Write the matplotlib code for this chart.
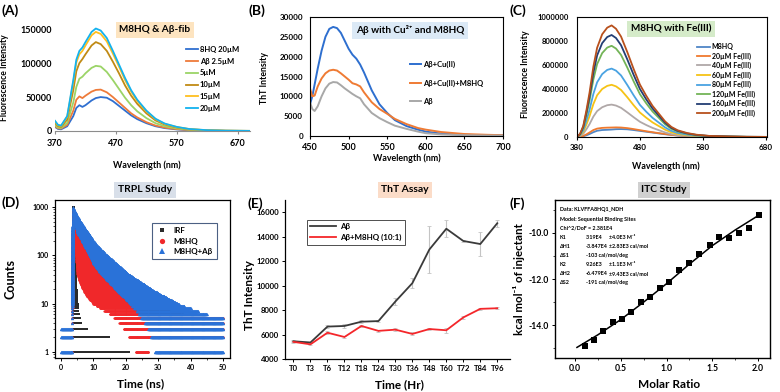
import numpy as np
import matplotlib
matplotlib.use('Agg')
import matplotlib.pyplot as plt
from matplotlib.lines import Line2D
from matplotlib.ticker import FixedLocator, NullFormatter, FuncFormatter

plt.rcParams['font.family'] = ['Lato', 'DejaVu Sans']
plt.rcParams['font.weight'] = 'bold'
plt.rcParams['axes.labelweight'] = 'bold'
plt.rcParams['mathtext.default'] = 'regular'

# ---------------- data ----------------
# (A) M8HQ & Abeta-fib fluorescence
lamA = [370, 375, 380, 390, 400, 405, 410, 415, 420, 430, 437, 445, 455, 465, 475, 485,
        495, 505, 520, 535, 550, 570, 590, 620, 650, 690]
A_hq20 = [6000, 3000, 2500, 7000, 22000, 34000, 38000, 35500, 38000, 45000, 48500, 50000, 49000,
          44000, 37000, 30000, 23000, 17500, 11500, 7000, 4300, 2300, 1200, 450, 180, 70]
A_ab25 = [7000, 4000, 3500, 9000, 30000, 46000, 51000, 48500, 52000, 58000, 60500, 61000, 57000,
          50000, 42000, 34000, 26000, 20000, 13000, 8000, 5000, 2700, 1400, 500, 200, 80]
A_5 = [9000, 5000, 4500, 12000, 42000, 65000, 77000, 80000, 85000, 93000, 96000, 95000, 87000,
       75000, 62000, 49000, 38000, 29000, 19000, 11500, 7000, 3800, 1900, 700, 300, 100]
A_10 = [12000, 7000, 6000, 17000, 60000, 88000, 100000, 106000, 113000, 126000, 131000, 128000,
        118000, 102000, 85000, 67000, 52000, 40000, 26000, 15500, 9500, 5200, 2600, 1000, 400, 150]
A_15 = [14000, 8500, 7500, 21000, 72000, 101000, 113000, 118000, 126000, 141000, 146000, 143000,
        132000, 114000, 95000, 75000, 58000, 44000, 29000, 17500, 10500, 5800, 2900, 1100, 450, 200]
A_20 = [15000, 9000, 8000, 22000, 75000, 105000, 118000, 123000, 131000, 146000, 151000, 148000,
        137000, 118000, 98000, 78000, 60000, 46000, 30000, 18000, 11000, 6000, 3000, 1200, 500, 200]
A_labels = ['8HQ 20µM', 'Aβ 2.5µM', '5µM', '10µM', '15µM', '20µM']

# (B) Abeta with Cu2+ and M8HQ (ThT)
lamB = [450, 453, 456, 460, 465, 470, 475, 480, 485, 490, 495, 500, 505, 510, 515, 520,
        530, 540, 550, 560, 575, 590, 600, 620, 650, 680, 700]
B_cu = [8000, 10000, 13000, 17000, 21500, 25000, 27000, 27500, 27200, 26000, 24000, 22000, 20500,
        19500, 18000, 16000, 11500, 8000, 5800, 4000, 2500, 1600, 1100, 600, 300, 200, 150]
B_cu_m8 = [12000, 10000, 10200, 12500, 14500, 15800, 16500, 16700, 16500, 15800, 15000, 14200,
           13300, 13000, 12500, 11000, 8500, 6800, 5600, 4300, 3000, 2000, 1600, 1000, 500, 300, 200]
B_ab = [8500, 6800, 6300, 7500, 10000, 12000, 13200, 13600, 13500, 12800, 12000, 11300, 10600,
        10000, 9500, 8000, 5800, 4500, 3500, 2600, 1800, 1100, 700, 400, 200, 120, 100]
B_labels = ['Aβ+Cu(II)', 'Aβ+Cu(II)+M8HQ', 'Aβ']

# (C) M8HQ with Fe(III)
lamC = [380, 385, 390, 395, 400, 406, 412, 420, 428, 435, 442, 450, 460, 470, 480, 490,
        500, 510, 520, 530, 540, 555, 570, 590, 620, 650, 680]
C_m8 = [0, 2000, 6000, 14000, 25000, 40000, 52000, 58000, 60000, 62000, 65000, 66000, 64000, 58000,
        51000, 44000, 37000, 30000, 23000, 17000, 12500, 8000, 5000, 2500, 1200, 500, 200]
C_20 = [0, 3000, 9000, 22000, 38000, 58000, 70000, 76000, 78000, 79000, 80000, 79000, 74000, 66000,
        57000, 48000, 40000, 32000, 25000, 18000, 13000, 8000, 5000, 2500, 1200, 500, 200]
C_40 = [0, 8000, 27000, 65000, 108000, 170000, 216000, 248000, 265000, 270000, 262000, 243000,
        205000, 165000, 127000, 100000, 76000, 57000, 38000, 24000, 16000, 9500, 5400, 2700, 1400, 540, 270]
C_60 = [0, 13000, 43500, 104000, 174000, 274000, 348000, 400000, 426000, 435000, 422000, 392000,
        331000, 265000, 204000, 161000, 122000, 91000, 61000, 39000, 26000, 15000, 8700, 4400, 2200, 900, 400]
C_80 = [0, 17000, 57000, 137000, 228000, 359000, 456000, 524000, 559000, 570000, 553000, 513000,
        433000, 348000, 268000, 211000, 160000, 120000, 80000, 51000, 34000, 20000, 11400, 5700, 2900, 1100, 570]
C_120 = [0, 23000, 76000, 182000, 304000, 479000, 608000, 699000, 745000, 760000, 737000, 684000,
         578000, 464000, 357000, 281000, 213000, 160000, 106000, 68000, 46000, 27000, 15000, 7600, 3800, 1500, 760]
C_160 = [0, 25000, 85000, 204000, 340000, 535000, 680000, 782000, 833000, 850000, 825000, 765000,
         646000, 518000, 400000, 314000, 238000, 178000, 119000, 76000, 51000, 30000, 17000, 8500, 4200, 1700, 850]
C_200 = [0, 28000, 93000, 223000, 372000, 586000, 744000, 856000, 911000, 930000, 902000, 837000,
         707000, 567000, 437000, 344000, 260000, 195000, 130000, 84000, 56000, 33000, 19000, 9300, 4600, 1900, 900]
C_labels = ['M8HQ', '20µM Fe(III)', '40µM Fe(III)', '60µM Fe(III)', '80µM Fe(III)',
            '120µM Fe(III)', '160µM Fe(III)', '200µM Fe(III)']

# (D) TRPL: counts envelope (low / high) read at times (ns)
D_irf_t = [3.5, 3.8, 4.1, 4.4, 4.7, 5.2, 6, 8, 10, 14, 18, 21]
D_irf_hi = [1, 1000, 1000, 150, 25, 8, 4, 3, 2.5, 2.2, 1.5, 1.2]
D_irf_lo = [1, 1, 1, 1, 1, 1, 1, 1, 1, 1, 1, 1]
D_m8_t = [3.3, 3.5, 3.8, 4.2, 4.6, 5, 6, 8, 10, 12, 15, 18, 21, 23, 27, 28, 30, 40, 50]
D_m8_hi = [1, 300, 900, 500, 330, 250, 190, 120, 80, 60, 40, 28, 20, 15, 11, 10, 8, 5.5, 5]
D_m8_lo = [1, 1, 500, 200, 90, 40, 25, 14, 10, 8, 6, 4, 2, 1, 1, 2, 2, 2, 2]
D_ab_t = [0, 3.3, 3.5, 3.8, 4.2, 5, 6, 8, 10, 12, 15, 18, 21, 24, 27, 29, 35, 40, 45, 50]
D_ab_hi = [3.5, 3.5, 400, 1000, 850, 650, 500, 320, 200, 140, 90, 60, 40, 30, 22, 18, 11, 8, 6, 5]
D_ab_lo = [1, 1, 1, 700, 500, 300, 230, 130, 70, 45, 28, 17, 11, 6, 3, 1, 1, 1, 1, 1]

# (E) ThT assay
E_cats = ['T0', 'T3', 'T6', 'T12', 'T18', 'T24', 'T30', 'T36', 'T48', 'T60', 'T72', 'T84', 'T96']
E_ab = [5450, 5350, 6650, 6700, 7050, 7100, 8700, 10200, 12950, 14650, 13650, 13400, 15100]
E_ab_err = [80, 80, 100, 200, 100, 80, 250, 400, 1900, 700, 120, 950, 300]
E_m8 = [5400, 5200, 6150, 5800, 6700, 6300, 6400, 6050, 6450, 6350, 7400, 8100, 8150]
E_m8_err = [80, 80, 100, 100, 100, 80, 100, 120, 100, 200, 100, 100, 100]

# (F) ITC
F_x = [0.11, 0.21, 0.31, 0.41, 0.51, 0.61, 0.72, 0.82, 0.93, 1.03, 1.14, 1.24, 1.35, 1.47,
       1.57, 1.68, 1.79, 1.90, 2.01]
F_y = [-14.90, -14.65, -14.25, -13.87, -13.75, -13.42, -12.98, -12.79, -12.41, -12.14, -11.63,
       -11.32, -10.90, -10.52, -10.16, -10.23, -10.00, -9.77, -9.23]
F_fit_x = [0.02, 0.25, 0.5, 0.75, 1.0, 1.25, 1.5, 1.75, 2.02]
F_fit_y = [-14.97, -14.42, -13.76, -13.0, -12.2, -11.35, -10.55, -9.87, -9.2]

# ---------------- figure ----------------
W, H = 780, 392
fig = plt.figure(figsize=(7.8, 3.92), dpi=100)
intfmt = FuncFormatter(lambda v, p: '%d' % v)


def add_ax(l, r, t, b):
    return fig.add_axes([l / W, 1 - b / H, (r - l) / W, (b - t) / H])


def ftext(x, y, s, **kw):
    return fig.text(x / W, 1 - y / H, s, **kw)


def boxed(x, y, s, fc, size=7.2):
    ftext(x, y, s, ha='center', va='center', fontsize=size, fontweight='bold',
          bbox=dict(boxstyle='square,pad=0.35', fc=fc, ec='none'))


# ---- A ----
axA = add_ax(55, 250, 19, 131)
colA = ['#2f6fd0', '#ee7b3a', '#9bd467', '#c08a14', '#ffbf1f', '#13b2ef']
for y, c, lab in zip([A_hq20, A_ab25, A_5, A_10, A_15, A_20], colA, A_labels):
    axA.plot(lamA, y, color=c, lw=1.3, label=lab)
axA.set_xlim(370, 690)
axA.set_ylim(0, 165000)
axA.set_xticks([370, 470, 570, 670])
axA.set_yticks([0, 50000, 100000, 150000])
axA.yaxis.set_major_formatter(intfmt)
for s in ['left', 'top', 'right']:
    axA.spines[s].set_visible(False)
axA.spines['bottom'].set_color('#8c8c8c')
axA.tick_params(axis='y', length=0, pad=2.5, labelsize=6.5)
axA.tick_params(axis='x', length=2.5, color='#8c8c8c', pad=3, labelsize=6.5)
axA.set_ylabel('Fluorescence Intensity', fontsize=6.2)
axA.yaxis.set_label_coords(-0.235, 0.48)
axA.set_xlabel('Wavelength (nm)', fontsize=6.4)
axA.xaxis.set_label_coords(0.47, -0.26)
axA.legend(loc='upper left', bbox_to_anchor=(186 / W, 1 - 46 / H), bbox_transform=fig.transFigure,
           frameon=False, fontsize=5.5, handlelength=1.6, handletextpad=0.2, labelspacing=0.62,
           borderpad=0, borderaxespad=0)
boxed(155, 30, 'M8HQ & Aβ-fib', '#fde4c0')

# ---- B ----
axB = add_ax(310, 503, 17, 136)
for y, c, lab in zip([B_cu, B_cu_m8, B_ab], ['#2e6fcf', '#ef7b34', '#a8a8a8'], B_labels):
    axB.plot(lamB, y, color=c, lw=1.4, label=lab)
axB.set_xlim(450, 700)
axB.set_ylim(0, 30000)
axB.set_xticks([450, 500, 550, 600, 650, 700])
axB.set_yticks(range(0, 30001, 5000))
axB.yaxis.set_major_formatter(intfmt)
for s in axB.spines.values():
    s.set_linewidth(0.8)
axB.tick_params(axis='y', length=0, pad=5, labelsize=5.8)
axB.tick_params(axis='x', length=2, pad=3, labelsize=6.5)
axB.set_ylabel('ThT Intensity', fontsize=6.3)
axB.yaxis.set_label_coords(-0.21, 0.49)
axB.set_xlabel('Wavelength (nm)', fontsize=6.4)
axB.xaxis.set_label_coords(0.5, -0.15)
axB.legend(loc='upper left', bbox_to_anchor=(410 / W, 1 - 61 / H), bbox_transform=fig.transFigure,
           frameon=False, fontsize=5.5, handlelength=1.5, handletextpad=0.25, labelspacing=1.45,
           borderpad=0, borderaxespad=0)
boxed(410, 30, 'Aβ with Cu²⁺ and M8HQ', '#dbe9f6')

# ---- C ----
axC = add_ax(577, 767, 17, 137)
colC = ['#4f86c6', '#f07a2e', '#b0a8a8', '#f6c316', '#4aa3e2', '#73b457', '#233e73', '#b8501c']
for y, c, lab in zip([C_m8, C_20, C_40, C_60, C_80, C_120, C_160, C_200], colC, C_labels):
    axC.plot(lamC, y, color=c, lw=1.3, label=lab)
axC.set_xlim(380, 682)
axC.set_ylim(0, 1000000)
axC.set_xticks([380, 480, 580, 680])
axC.set_yticks(range(0, 1000001, 200000))
axC.yaxis.set_major_formatter(intfmt)
for s in axC.spines.values():
    s.set_linewidth(0.8)
axC.tick_params(axis='y', length=0, pad=6, labelsize=5.5)
axC.tick_params(axis='x', length=2, pad=3, labelsize=5.8)
axC.set_ylabel('Fluorescence Intensity', fontsize=6.3)
axC.yaxis.set_label_coords(-0.25, 0.52)
axC.set_xlabel('Wavelength (nm)', fontsize=6.4)
axC.xaxis.set_label_coords(0.47, -0.2)
axC.legend(loc='upper left', bbox_to_anchor=(697 / W, 1 - 43 / H), bbox_transform=fig.transFigure,
           frameon=False, fontsize=5.0, handlelength=1.9, handletextpad=0.2, labelspacing=0.33,
           borderpad=0, borderaxespad=0)
boxed(671, 29, 'M8HQ with Fe(III)', '#d5ebc9')

# ---- D ----
axD = add_ax(55, 230, 200, 358)


def band(t_env, lo_env, hi_env, dt=0.1):
    tt = np.arange(t_env[0], t_env[-1] + 1e-9, dt)
    lo = 10 ** np.interp(tt, t_env, np.log10(lo_env))
    hi = 10 ** np.interp(tt, t_env, np.log10(hi_env))
    levels = np.concatenate([np.arange(1, 10), 10 ** np.arange(1, 3.02, 1 / 60)])
    xs, ys = [], []
    for t, a, b in zip(tt, lo, hi):
        sel = levels[(levels >= a - 1e-6) & (levels <= b + 1e-6)]
        xs.append(np.full(sel.size, t))
        ys.append(sel)
    return np.concatenate(xs), np.concatenate(ys)


for (tt, lo, hi), mk, ms, c in [((D_irf_t, D_irf_lo, D_irf_hi), 's', 1.5, '#2b2b2b'),
                                ((D_m8_t, D_m8_lo, D_m8_hi), 'o', 1.6, '#f0282a'),
                                ((D_ab_t, D_ab_lo, D_ab_hi), '^', 2.3, '#2a72d8')]:
    x, y = band(tt, lo, hi)
    axD.plot(x, y, ls='none', marker=mk, ms=ms, mew=0, color=c)
axD.set_yscale('log')
axD.set_xlim(-1.9, 52.2)
axD.set_ylim(0.75, 1400)
axD.set_xticks(range(0, 51, 10))
axD.xaxis.set_minor_locator(FixedLocator([5, 15, 25, 35, 45]))
axD.set_yticks([1, 10, 100, 1000])
axD.set_yticklabels(['1', '10', '100', '1000'])
axD.yaxis.set_minor_formatter(NullFormatter())
for s in axD.spines.values():
    s.set_linewidth(0.9)
axD.tick_params(which='major', length=2.5, width=0.7, labelsize=5, pad=2)
axD.tick_params(which='minor', length=1.5, width=0.5)
axD.set_ylabel('Counts', fontsize=9)
axD.yaxis.set_label_coords(-0.22, 0.5)
axD.set_xlabel('Time (ns)', fontsize=8.5)
axD.xaxis.set_label_coords(0.49, -0.13)
hD = [Line2D([], [], ls='none', marker='s', ms=3.3, color='#2b2b2b', mew=0),
      Line2D([], [], ls='none', marker='o', ms=3.8, color='#f0282a', mew=0),
      Line2D([], [], ls='none', marker='^', ms=3.8, color='#2a72d8', mew=0)]
legD = axD.legend(hD, ['IRF', 'M8HQ', 'M8HQ+Aβ'], loc='upper left',
                  bbox_to_anchor=(152 / W, 1 - 223 / H), bbox_transform=fig.transFigure,
                  fontsize=5.8, frameon=True, fancybox=False, edgecolor='#1f3864',
                  handlelength=1.6, handletextpad=0.6, labelspacing=0.45, borderpad=0.5,
                  borderaxespad=0)
legD.get_frame().set_linewidth(0.8)
boxed(145, 190, 'TRPL Study', '#d8dfe9', size=7.5)

# ---- E ----
axE = add_ax(285, 510, 200, 359)
xe = np.arange(len(E_cats))
axE.errorbar(xe, E_ab, yerr=E_ab_err, color='#3a3a3a', lw=1.3, ecolor='#c4c4c4', elinewidth=0.8,
             capsize=1.5, capthick=0.6, label='Aβ')
axE.errorbar(xe, E_m8, yerr=E_m8_err, color='#f4262a', lw=1.3, ecolor='#c4c4c4', elinewidth=0.8,
             capsize=1.5, capthick=0.6, label='Aβ+M8HQ (10:1)')
axE.set_xlim(-0.5, 12.75)
axE.set_ylim(4000, 17000)
axE.set_xticks(xe)
axE.set_xticklabels(E_cats)
axE.set_yticks(range(4000, 16001, 2000))
for s in ['top', 'right']:
    axE.spines[s].set_visible(False)
for s in ['left', 'bottom']:
    axE.spines[s].set_linewidth(0.9)
axE.tick_params(length=2.5, width=0.7, labelsize=5.6, pad=2)
axE.set_ylabel('ThT Intensity', fontsize=8.5)
axE.yaxis.set_label_coords(-0.135, 0.4)
axE.set_xlabel('Time (Hr)', fontsize=8.5)
axE.xaxis.set_label_coords(0.51, -0.13)
hE = [Line2D([], [], color='#3a3a3a', lw=1.3), Line2D([], [], color='#f4262a', lw=1.3)]
legE = axE.legend(hE, ['Aβ', 'Aβ+M8HQ (10:1)'], loc='upper left',
                  bbox_to_anchor=(307 / W, 1 - 220 / H), bbox_transform=fig.transFigure,
                  fontsize=5.8, frameon=True, fancybox=False, edgecolor='#222222',
                  handlelength=3.2, handletextpad=0.5, labelspacing=0.5, borderpad=0.4,
                  borderaxespad=0)
legE.get_frame().set_linewidth(0.7)
boxed(405, 190, 'ThT Assay', '#fbdcc8', size=7.5)

# ---- F ----
axF = add_ax(555, 770, 200, 358)
axF.plot(F_fit_x, F_fit_y, color='black', lw=1.1)
axF.plot(F_x, F_y, ls='none', marker='s', ms=4, color='black', mew=0)
axF.set_xlim(-0.22, 2.13)
axF.set_ylim(-15.43, -8.57)
axF.set_xticks([0, 0.5, 1.0, 1.5, 2.0])
axF.set_xticklabels(['0.0', '0.5', '1.0', '1.5', '2.0'])
axF.xaxis.set_minor_locator(FixedLocator([0.25, 0.75, 1.25, 1.75]))
axF.set_yticks([-10, -12, -14])
axF.set_yticklabels(['-10.0', '-12.0', '-14.0'])
axF.yaxis.set_minor_locator(FixedLocator([-9, -11, -13, -15]))
for s in axF.spines.values():
    s.set_linewidth(1.0)
axF.tick_params(which='major', length=2.5, width=0.7, labelsize=6.2, pad=2)
axF.tick_params(which='minor', length=1.5, width=0.5)
axF.set_ylabel('kcal mol⁻¹ of injectant', fontsize=8.3)
axF.yaxis.set_label_coords(-0.14, 0.5)
axF.set_xlabel('Molar Ratio', fontsize=8.5)
axF.xaxis.set_label_coords(0.53, -0.13)
F_info = [('Data: KLVFFA8HQ1_NDH', '', ''),
          ('Model: Sequential Binding Sites', '', ''),
          ('Chi^2/DoF = 2.381E4', '', ''),
          ('K1', '3.19E4', '±4.0E3 M⁻¹'),
          ('ΔH1', '-3.847E4', '±2.83E3 cal/mol'),
          ('ΔS1', '-103 cal/mol/deg', ''),
          ('K2', '9.26E3', '±1.1E3 M⁻¹'),
          ('ΔH2', '-6.479E4', '±9.43E3 cal/mol'),
          ('ΔS2', '-191 cal/mol/deg', '')]
for i, (a, b, c) in enumerate(F_info):
    yy = 210 + i * 9.1
    ftext(560, yy, a, fontsize=3.9, va='center')
    if b:
        ftext(586, yy, b, fontsize=3.9, va='center')
    if c:
        ftext(609, yy, c, fontsize=3.9, va='center')
boxed(664, 190, 'ITC Study', '#d0d0d0', size=7.5)

# panel labels
for (x, y, s) in [(2, 11, '(A)'), (249, 11, '(B)'), (509, 11, '(C)'),
                  (2, 203, '(D)'), (248, 204, '(E)'), (510, 204, '(F)')]:
    ftext(x, y, s, fontsize=10, fontweight='bold', va='center', ha='left')

fig.savefig('out.png', dpi=100)
